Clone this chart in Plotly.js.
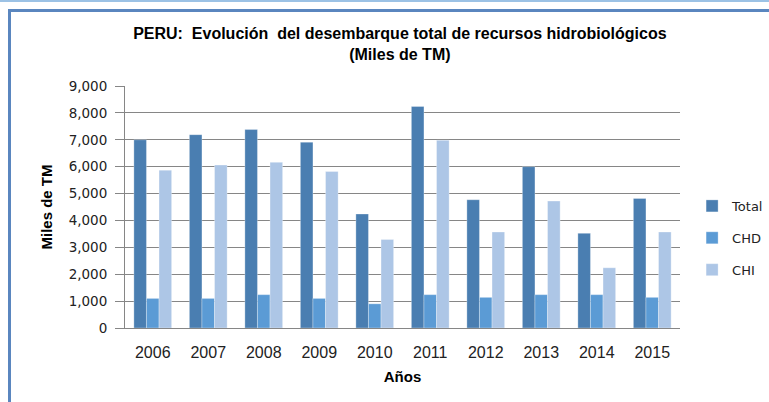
<!DOCTYPE html>
<html>
<head>
<meta charset="utf-8">
<script src="https://cdn.plot.ly/plotly-3.0.1.min.js"></script>
<style>
  html, body { margin:0; padding:0; background:#fff; }
  #wrap { position:relative; width:769px; height:402px; overflow:hidden; }
  #chart { position:absolute; left:0; top:0; width:769px; height:402px; }
  #topline { position:absolute; left:0; top:0; width:769px; height:2px; background:#9cc2e5; pointer-events:none; }
  #frame { position:absolute; left:8px; top:9px; width:800px; height:420px;
           border-top:3px solid #5a86bf; border-left:3px solid #5a86bf; pointer-events:none; }
</style>
</head>
<body>
<div id="wrap">
  <div id="chart"></div>
  <div id="topline"></div>
  <div id="frame"></div>
</div>
<script>
const years = ['2006','2007','2008','2009','2010','2011','2012','2013','2014','2015'];
const total = [7000, 7190, 7380, 6910, 4240, 8240, 4770, 6000, 3520, 4820];
const chd   = [1100, 1100, 1240, 1100,  900, 1240, 1140, 1240, 1240, 1140];
const chi   = [5870, 6060, 6160, 5820, 3290, 6980, 3570, 4720, 2240, 3570];
const yTicks = [0,1000,2000,3000,4000,5000,6000,7000,8000,9000];
const yTickText = ['0','1,000','2,000','3,000','4,000','5,000','6,000','7,000','8,000','9,000'];

const mk = (name, y, color, g) => ({
  type:'bar', name:name, x:years, y:y, legendgroup:g,
  marker:{color:color, line:{color:'rgba(255,255,255,0.6)', width:0.5}},
  hoverinfo:'none'
});

const data = [
  mk('Total', total, '#4a7eb1', 'a'),
  mk('CHD', chd, '#5b9bd5', 'b'),
  mk('CHI', chi, '#adc6e6', 'c')
];

const narrow = 'Liberation Sans Narrow, Liberation Sans, Arial, sans-serif';
const wide = 'DejaVu Sans, Verdana, sans-serif';

const layout = {
  width:769, height:402,
  margin:{l:125, r:89, t:86, b:74, autoexpand:false},
  paper_bgcolor:'#ffffff', plot_bgcolor:'#ffffff',
  barmode:'group', bargap:0.32, bargroupgap:0,
  font:{family:wide, size:12, color:'#000'},
  title:{
    text:'<b>PERU:  Evolución  del desembarque total de recursos hidrobiológicos</b><br><b>(Miles de TM)</b>',
    font:{family:narrow, size:16, color:'#000'},
    x:0.52, xanchor:'center', y:0.902, yanchor:'top'
  },
  xaxis:{
    type:'category', showgrid:false, showline:true, linecolor:'#868686', linewidth:1,
    ticks:'', ticklabelstandoff:10, tickfont:{family:narrow, size:16, color:'#222'},
    title:{text:'<b>Años</b>', font:{family:narrow, size:15}, standoff:11},
    fixedrange:true
  },
  yaxis:{
    range:[0,9000], tickvals:yTicks, ticktext:yTickText,
    showgrid:true, gridcolor:'#868686', gridwidth:1,
    showline:true, linecolor:'#868686', linewidth:1,
    ticks:'outside', ticklen:9, tickcolor:'#868686',
    ticklabelstandoff:5,
    tickfont:{family:wide, size:13.5, color:'#222'},
    zeroline:false,
    title:{text:'<b>Miles de TM</b>', font:{family:narrow, size:15}, standoff:12},
    fixedrange:true
  },
  legend:{
    xref:'container', yref:'container',
    x:0.90, xanchor:'left', y:0.525, yanchor:'top',
    traceorder:'grouped', tracegroupgap:12,
    font:{family:wide, size:13, color:'#222'},
    itemwidth:30, bgcolor:'rgba(0,0,0,0)'
  },
  showlegend:true
};

Plotly.newPlot('chart', data, layout, {staticPlot:true, displayModeBar:false});
</script>
</body>
</html>
